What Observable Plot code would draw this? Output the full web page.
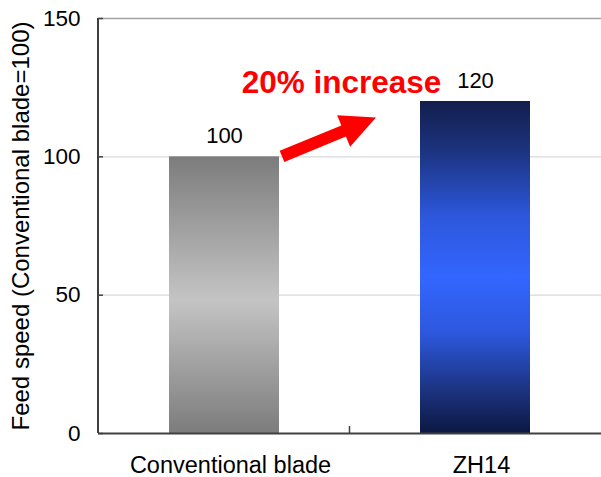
<!DOCTYPE html>
<html>
<head>
<meta charset="utf-8">
<script src="https://cdn.jsdelivr.net/npm/d3@7"></script>
<script src="https://cdn.jsdelivr.net/npm/@observablehq/plot@0.6"></script>
<style>
  html, body { margin: 0; padding: 0; background: #fff; }
  #chart svg { display: block; }
</style>
</head>
<body>
<div id="chart"></div>
<script>
// ---- data ----
const categories = ["Conventional blade", "ZH14"];
const feedSpeed = [100, 120];
const yTicks = [0, 50, 100, 150];
const yTitle = "Feed speed (Conventional blade=100)";
const annotationText = "20% increase";
const arrowFromValue = 100;
const arrowToValue = 114;
const annotationValue = 123;

const data = categories.map((c, i) => ({category: c, value: feedSpeed[i]}));
const gradientFor = {"Conventional blade": "url(#gradGray)", "ZH14": "url(#gradBlue)"};

const W = 601, H = 477;
const mL = 98, mR = 0, mT = 18, mB = 44;
const padInner = 0.56, padOuter = 0.28;
const axisColor = "#404040";

function extras(index, scales) {
  const xs = scales.x, ys = scales.y;
  const x0 = xs(categories[0]), x1 = xs(categories[1]);
  const step = x1 - x0;
  const bw = typeof xs.bandwidth === "function" ? xs.bandwidth() : step * (1 - padInner);
  const g = d3.create("svg:g");
  // left axis line
  g.append("line").attr("x1", mL).attr("x2", mL).attr("y1", ys(150)).attr("y2", ys(0))
    .attr("stroke", axisColor).attr("stroke-width", 2);
  // x boundary tick between categories
  const bx = (x0 + bw + x1) / 2;
  g.append("line").attr("x1", bx).attr("x2", bx).attr("y1", ys(0)).attr("y2", ys(0) - 7)
    .attr("stroke", axisColor).attr("stroke-width", 1.5);
  // arrow
  const tx = x0 + bw + 3, ty = ys(arrowFromValue);
  const px = x1 - 44, py = ys(arrowToValue);
  const dx = px - tx, dy = py - ty, L = Math.hypot(dx, dy);
  const ux = dx / L, uy = dy / L, nx = -uy, ny = ux;
  const headLen = 35, headHalf = 17, shaftHalf = 6;
  const hx = px - ux * headLen, hy = py - uy * headLen;
  const pts = [
    [tx + nx * shaftHalf, ty + ny * shaftHalf],
    [hx + nx * shaftHalf, hy + ny * shaftHalf],
    [hx + nx * headHalf, hy + ny * headHalf],
    [px, py],
    [hx - nx * headHalf, hy - ny * headHalf],
    [hx - nx * shaftHalf, hy - ny * shaftHalf],
    [tx - nx * shaftHalf, ty - ny * shaftHalf]
  ];
  g.append("polygon").attr("points", pts.map(p => p.join(",")).join(" ")).attr("fill", "#ff0000");
  return g.node();
}

const svg = Plot.plot({
  width: W,
  height: H,
  marginLeft: mL,
  marginRight: mR,
  marginTop: mT,
  marginBottom: mB,
  style: {fontFamily: "'Liberation Sans', Arial, sans-serif", fontSize: "22px", color: "#000", background: "#fff"},
  x: {domain: categories, paddingInner: padInner, paddingOuter: padOuter, label: null},
  y: {domain: [0, 150], label: null},
  color: {type: "identity"},
  marks: [
    Plot.ruleY([50, 100], {stroke: "#d9d9d9", strokeWidth: 1.2}),
    Plot.ruleY([150], {stroke: "#a0a0a0", strokeWidth: 1.5}),
    Plot.barY(data, {x: "category", y: "value", fill: d => gradientFor[d.category]}),
    Plot.ruleY([0], {stroke: axisColor, strokeWidth: 2}),
    Plot.ruleY(yTicks, {insetRight: W - mL - mR - 5, stroke: axisColor, strokeWidth: 1.5}),
    Plot.axisY({ticks: yTicks, tickSize: 0, tickPadding: 18, tickFormat: d => String(d), fontSize: 22.5, label: null}),
    Plot.axisX({tickSize: 0, tickPadding: 23, fontSize: 23.5, dx: 6, label: null}),
    extras,
    Plot.text(data, {x: "category", y: "value", text: d => String(d.value), dy: -14, lineAnchor: "bottom", fontSize: 22, fill: "#000"}),
    Plot.text([annotationText], {x: () => categories[1], y: () => annotationValue, text: d => d, dx: -134, lineAnchor: "bottom", fontSize: 31.5, fontWeight: "bold", fill: "#ff0000"}),
    Plot.text([yTitle], {frameAnchor: "left", text: d => d, rotate: -90, dx: 28 - mL, lineAnchor: "bottom", textAnchor: "middle", fontSize: 24, fill: "#000"})
  ]
});

// gradient definitions
const defs = d3.create("svg:defs");
const gGray = defs.append("linearGradient").attr("id", "gradGray").attr("x1", 0).attr("y1", 0).attr("x2", 0).attr("y2", 1);
[[0, "#7c7c7c"], [0.52, "#c4c4c4"], [1, "#7c7c7c"]].forEach(([o, c]) => gGray.append("stop").attr("offset", o).attr("stop-color", c));
const gBlue = defs.append("linearGradient").attr("id", "gradBlue").attr("x1", 0).attr("y1", 0).attr("x2", 0).attr("y2", 1);
[[0, "#121e4c"], [0.15, "#1c3380"], [0.35, "#2d58dd"], [0.53, "#3366ff"], [0.7, "#2d58dd"], [0.87, "#1c3380"], [1, "#0c1842"]]
  .forEach(([o, c]) => gBlue.append("stop").attr("offset", o).attr("stop-color", c));
svg.insertBefore(defs.node(), svg.firstChild);

document.getElementById("chart").appendChild(svg);
</script>
</body>
</html>
